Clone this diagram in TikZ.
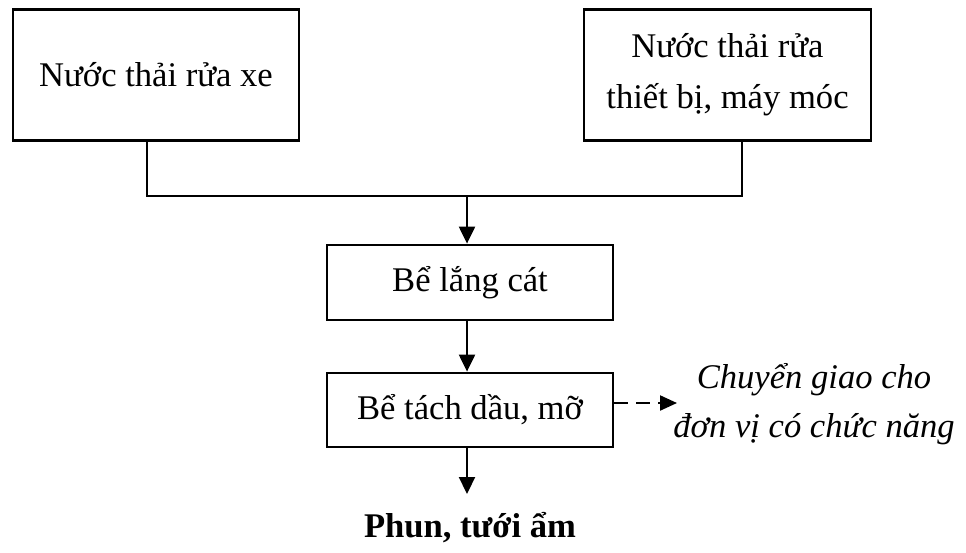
\documentclass[tikz,border=0pt]{standalone}
\usepackage{fontspec}
\setmainfont{Liberation Serif}
\usetikzlibrary{arrows.meta}
\begin{document}
\begin{tikzpicture}[x=1pt,y=-1pt,
  procbox/.style={draw, line width=2.8pt, inner sep=0pt, align=center,
    font=\fontsize{34.6}{51}\selectfont},
  feed/.style={line width=1.2pt},
  flow/.style={line width=2.2pt, -{Triangle[length=17pt,width=16pt]}},
  side/.style={line width=2.2pt, dash pattern=on 14pt off 8pt,
    -{Triangle[length=17pt,width=15pt]}},
  lbl/.style={align=center, inner sep=0pt}]
\useasboundingbox (0,0) rectangle (966,552);

% source streams
\node[procbox, minimum width=286pt, minimum height=131pt] (xe) at (156,75)
  {Nước thải rửa xe};
\node[procbox, minimum width=287pt, minimum height=131pt] (tb) at (727.5,75)
  {Nước thải rửa\\thiết bị, máy móc};

% treatment units
\node[procbox, minimum width=286pt, minimum height=75pt] (lang) at (470,282.5)
  {Bể lắng cát};
\node[procbox, minimum width=286pt, minimum height=74pt] (tach) at (470,410)
  {Bể tách dầu, mỡ};

% collecting header
\coordinate (jl) at (147,196);
\coordinate (jm) at (467,196);
\coordinate (jr) at (742,196);
\draw[feed] (xe.south -| jl) -- (jl) -- (jr) -- (tb.south -| jr);
\draw[flow] (jm) -- (jm |- lang.north);
\draw[flow] (lang.south -| jm) -- (jm |- tach.north);

% outlet
\coordinate (out) at (467,494);
\draw[flow] (tach.south -| jm) -- (out);
\node[lbl, font=\fontsize{34.6}{51}\selectfont\bfseries] (phun) at (470,528)
  {Phun, tưới ẩm};

% oil and grease removal
\coordinate (oil) at (677,403);
\draw[side] (tach.east |- oil) -- (oil);
\node[lbl, font=\fontsize{34.6}{49}\selectfont\itshape] (cg) at (814,404)
  {Chuyển giao cho\\đơn vị có chức năng};
\end{tikzpicture}
\end{document}
